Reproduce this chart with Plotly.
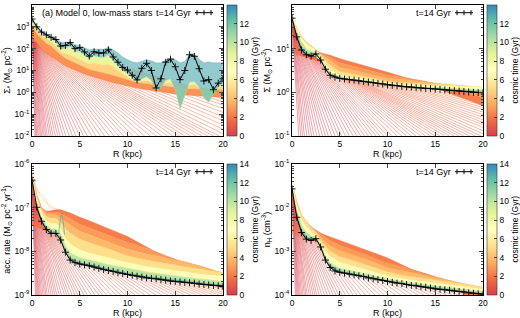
import plotly.graph_objects as go

# ================= DATA (stored as log10) =================
R_half = [0, 0.5, 1, 1.5, 2, 2.5, 3, 3.5, 4, 4.5, 5, 5.5, 6, 6.5, 7, 7.5, 8, 8.5, 9, 9.5, 10,
          10.5, 11, 11.5, 12, 12.5, 13, 13.5, 14, 14.5, 15, 15.5, 16, 16.5, 17, 17.5, 18, 18.5, 19, 19.5, 20]
R_coarse = [0, 0.5, 1, 1.5, 2, 2.5, 3, 3.5, 4, 5, 6, 8, 10, 12, 14, 16, 18, 20]
cbar_ticks = [0, 2, 4, 6, 8, 10, 12, 14]

# ---- (a) low-mass stars, Sigma_* (Msun/pc^2) ----
star_log_final = [3.36, 3.00, 2.76, 2.63, 2.52, 2.42, 2.12, 2.15, 2.28, 2.00, 2.05, 1.85, 1.66, 1.86, 1.80,
                  1.80, 1.95, 1.62, 1.38, 1.14, 1.02, 0.78, 0.57, 1.10, 1.33, 1.00, 0.20, 0.62, 1.38, 1.52,
                  1.17, 0.58, 1.00, 1.72, 1.65, 1.08, 0.52, 0.58, 0.12, 0.42, 0.62]
star_layer_times = [2.0, 3.5, 6.0, 11.0, 14.0]
star_layer_t2 = [2.55, 2.25, 2.00, 1.80, 1.65, 1.50, 1.35, 1.22, 1.12, 1.02, 0.93, 0.85, 0.77, 0.70, 0.63,
                 0.57, 0.50, 0.45, 0.40, 0.34, 0.29, 0.24, 0.20, 0.16, 0.12, 0.08, 0.05, 0.02, -0.01, -0.04,
                 -0.07, -0.09, -0.11, -0.13, -0.15, -0.17, -0.18, -0.19, -0.20, -0.21, -0.22]
star_layer_t35 = [3.05, 2.70, 2.45, 2.25, 2.10, 1.90, 1.72, 1.55, 1.45, 1.35, 1.25, 1.15, 1.05, 1.00, 0.95,
                  0.90, 0.85, 0.80, 0.72, 0.65, 0.60, 0.52, 0.45, 0.42, 0.40, 0.37, 0.33, 0.30, 0.28, 0.26,
                  0.23, 0.20, 0.18, 0.16, 0.15, 0.13, 0.12, 0.11, 0.10, 0.10, 0.10]
star_layer_t6 = [3.22, 2.86, 2.62, 2.48, 2.34, 2.15, 1.86, 1.76, 1.72, 1.62, 1.52, 1.42, 1.30, 1.36, 1.30,
                 1.25, 1.30, 1.18, 1.00, 0.84, 0.72, 0.58, 0.50, 0.52, 0.55, 0.48, 0.38, 0.36, 0.42, 0.44,
                 0.30, 0.24, 0.22, 0.35, 0.38, 0.25, 0.17, 0.15, 0.15, 0.22, 0.30]
star_layer_t11 = [3.30, 2.94, 2.70, 2.57, 2.45, 2.33, 1.98, 2.02, 2.12, 1.88, 1.88, 1.72, 1.55, 1.68, 1.62,
                  1.60, 1.72, 1.45, 1.20, 1.00, 0.88, 0.66, 0.48, 0.62, 0.72, 0.55, 0.10, 0.20, 0.55, 0.62,
                  0.15, -0.75, -0.10, 0.48, 0.50, 0.25, -0.25, -0.45, -0.05, 0.25, 0.40]
star_layer_t14 = [3.42, 3.06, 2.82, 2.68, 2.57, 2.47, 2.30, 2.28, 2.34, 2.18, 2.15, 2.05, 1.95, 1.98, 1.98,
                  1.98, 2.06, 1.95, 1.80, 1.62, 1.50, 1.40, 1.36, 1.42, 1.50, 1.45, 1.36, 1.35, 1.46, 1.60,
                  1.50, 1.36, 1.42, 1.76, 1.78, 1.52, 1.36, 1.40, 1.36, 1.35, 1.35]
star_fan_log_center = [3.3, 3.3, 3.28, 3.25, 3.22, 3.2, 3.17, 3.14, 3.1, 3.07, 3.04, 3.0, 2.97, 2.94, 2.91,
                       2.88, 2.85, 2.82, 2.8, 2.78, 2.76, 2.75, 2.73, 2.72, 2.7, 2.68, 2.66, 2.65, 2.63, 2.62,
                       2.6, 2.58, 2.56, 2.55, 2.53, 2.52, 2.5, 2.49, 2.48, 2.47, 2.46, 2.45, 2.44, 2.43, 2.42,
                       2.41, 2.4, 2.4, 2.4, 2.4, 2.4, 2.4, 2.4, 2.4, 2.4, 2.4, 2.4, 2.4, 2.4, 2.4, 2.4]
star_fan_exit_R = [0.3, 0.4, 0.5, 0.62, 0.75, 0.88, 1.0, 1.15, 1.3, 1.45, 1.6, 1.8, 2.0, 2.2, 2.45, 2.7,
                   2.95, 3.25, 3.55, 3.9, 4.25, 4.6, 5.0, 5.4, 5.8, 6.25, 6.7, 7.15, 7.6, 8.1, 8.6, 9.1,
                   9.6, 10.1, 10.6, 11.2, 11.8, 12.4, 13.0, 13.6, 14.2, 14.8, 15.4, 16.0, 16.6, 17.2, 17.8,
                   18.4, 19.0, 19.6, 20.5, 21.5, 22.6, 23.8, 25.0, 26.5, 28.0, 29.5, 31.0, 32.5, 34.0]

# ---- gas surface density Sigma (Msun/pc^2) ----
gas_log_final = [1.70, 1.27, 0.97, 0.86, 0.83, 0.88, 0.74, 0.53, 0.39, 0.35, 0.32, 0.305, 0.29, 0.28, 0.265,
                 0.25, 0.235, 0.22, 0.205, 0.19, 0.17, 0.16, 0.15, 0.135, 0.125, 0.12, 0.105, 0.10, 0.09,
                 0.085, 0.075, 0.07, 0.055, 0.045, 0.04, 0.03, 0.02, 0.01, 0.0, -0.005, -0.01]
gas_snap_times = [1.8, 2.6, 3.4, 4.4, 6.0, 8.5, 11.5]
gas_snap_t18 = [1.55, 1.30, 1.12, 1.02, 0.96, 0.93, 0.91, 0.88, 0.85, 0.77, 0.71, 0.59, 0.46, 0.33, 0.18, 0.02, -0.14, -0.30]
gas_snap_t26 = [1.62, 1.38, 1.19, 1.08, 1.01, 0.96, 0.90, 0.85, 0.80, 0.68, 0.62, 0.51, 0.39, 0.33, 0.25, 0.12, 0.00, -0.12]
gas_snap_t34 = [1.70, 1.44, 1.25, 1.13, 1.05, 0.98, 0.88, 0.80, 0.73, 0.58, 0.53, 0.43, 0.32, 0.28, 0.24, 0.18, 0.10, 0.02]
gas_snap_t44 = [1.76, 1.48, 1.28, 1.15, 1.07, 0.99, 0.85, 0.74, 0.64, 0.48, 0.44, 0.35, 0.26, 0.22, 0.20, 0.19, 0.15, 0.11]
gas_snap_t60 = [1.78, 1.46, 1.25, 1.12, 1.04, 0.98, 0.81, 0.66, 0.53, 0.41, 0.37, 0.30, 0.22, 0.18, 0.16, 0.15, 0.14, 0.12]
gas_snap_t85 = [1.76, 1.40, 1.15, 1.00, 0.94, 0.94, 0.78, 0.59, 0.45, 0.36, 0.32, 0.26, 0.19, 0.15, 0.12, 0.10, 0.08, 0.06]
gas_snap_t115 = [1.72, 1.32, 1.04, 0.91, 0.87, 0.90, 0.76, 0.56, 0.42, 0.34, 0.30, 0.25, 0.18, 0.135, 0.10, 0.07, 0.04, 0.02]
gas_fan_log_center = [1.65, 1.65, 1.65, 1.65, 1.65, 1.65, 1.62, 1.62, 1.6, 1.6, 1.6, 1.58, 1.58, 1.56, 1.55,
                      1.54, 1.52, 1.5, 1.5, 1.48, 1.46, 1.45, 1.43, 1.41, 1.4, 1.38, 1.36, 1.35, 1.33, 1.31,
                      1.3, 1.28, 1.26, 1.24, 1.22, 1.2, 1.18, 1.16, 1.15, 1.13, 1.11, 1.1, 1.08, 1.06, 1.05,
                      1.03, 1.01, 1.0, 1.0, 0.99, 0.98, 0.97, 0.96, 0.95, 0.94, 0.93, 0.92, 0.91, 0.9, 0.9, 0.9]
gas_fan_exit_R = [0.7, 0.9, 1.1, 1.3, 1.55, 1.8, 2.05, 2.3, 2.6, 2.9, 3.2, 3.5, 3.8, 4.15, 4.5, 4.85, 5.2,
                  5.6, 6.0, 6.4, 6.8, 7.2, 7.6, 8.0, 8.4, 8.8, 9.2, 9.6, 10.0, 10.5, 11.0, 11.5, 12.0, 12.5,
                  13.0, 13.5, 14.0, 14.5, 15.0, 15.5, 16.0, 16.5, 17.0, 17.5, 18.0, 18.6, 19.2, 19.8, 20.5,
                  21.3, 22.2, 23.0, 23.8, 24.7, 25.7, 26.8, 28.0, 29.2, 30.4, 31.7, 33.0]

# ---- accretion rate (Msun/pc^2/yr) ----
acc_log_final = [-6.37, -6.99, -7.31, -7.50, -7.59, -7.59, -7.74, -8.02, -8.20, -8.26, -8.29, -8.31, -8.33,
                 -8.36, -8.39, -8.42, -8.44, -8.46, -8.49, -8.51, -8.53, -8.55, -8.57, -8.59, -8.61, -8.62,
                 -8.63, -8.65, -8.66, -8.68, -8.69, -8.70, -8.71, -8.72, -8.73, -8.75, -8.76, -8.77, -8.78,
                 -8.79, -8.80]
acc_snap_times = [1.8, 2.6, 3.4, 4.4, 6.0, 8.5, 11.5]
acc_snap_t18 = [-6.30, -6.75, -7.00, -7.08, -7.07, -7.05, -7.05, -7.08, -7.12, -7.22, -7.30, -7.48, -7.66, -7.90, -8.15, -8.40, -8.62, -8.86]
acc_snap_t26 = [-6.25, -6.72, -7.00, -7.10, -7.10, -7.10, -7.14, -7.19, -7.25, -7.38, -7.46, -7.63, -7.80, -7.93, -8.10, -8.26, -8.42, -8.60]
acc_snap_t34 = [-6.22, -6.72, -7.02, -7.14, -7.16, -7.16, -7.24, -7.32, -7.40, -7.54, -7.62, -7.78, -7.95, -8.06, -8.15, -8.24, -8.36, -8.50]
acc_snap_t44 = [-6.20, -6.74, -7.06, -7.20, -7.24, -7.24, -7.34, -7.48, -7.58, -7.72, -7.80, -7.94, -8.10, -8.20, -8.28, -8.34, -8.41, -8.48]
acc_snap_t60 = [-6.24, -6.80, -7.13, -7.30, -7.36, -7.36, -7.48, -7.68, -7.82, -7.96, -8.03, -8.14, -8.25, -8.34, -8.41, -8.47, -8.52, -8.56]
acc_snap_t85 = [-6.30, -6.88, -7.21, -7.40, -7.48, -7.48, -7.60, -7.86, -8.04, -8.14, -8.19, -8.30, -8.38, -8.47, -8.53, -8.59, -8.64, -8.69]
acc_snap_t115 = [-6.34, -6.94, -7.27, -7.46, -7.55, -7.55, -7.69, -7.97, -8.15, -8.25, -8.29, -8.40, -8.49, -8.57, -8.62, -8.67, -8.72, -8.77]
acc_fan_log_center = [-6.35, -6.35, -6.37, -6.4, -6.4, -6.42, -6.45, -6.47, -6.5, -6.5, -6.52, -6.55, -6.57,
                      -6.6, -6.6, -6.62, -6.65, -6.67, -6.7, -6.7, -6.72, -6.75, -6.77, -6.8, -6.82, -6.85,
                      -6.87, -6.9, -6.92, -6.95, -6.97, -7.0, -7.02, -7.05, -7.07, -7.1, -7.12, -7.15, -7.17,
                      -7.2, -7.21, -7.23, -7.25, -7.26, -7.28, -7.3, -7.31, -7.33, -7.34, -7.35, -7.36, -7.37,
                      -7.38, -7.39, -7.4, -7.4, -7.4, -7.4]
acc_fan_exit_R = [0.35, 0.45, 0.55, 0.65, 0.75, 0.87, 1.0, 1.15, 1.3, 1.45, 1.6, 1.8, 2.0, 2.2, 2.4, 2.6, 2.85,
                  3.1, 3.4, 3.65, 3.9, 4.2, 4.5, 4.8, 5.1, 5.45, 5.8, 6.2, 6.6, 7.0, 7.4, 7.8, 8.3, 8.8, 9.3,
                  9.8, 10.3, 10.8, 11.3, 11.8, 12.4, 13.0, 13.6, 14.2, 14.8, 15.4, 16.0, 16.6, 17.2, 17.8,
                  18.4, 19.0, 19.6, 20.2, 20.8, 21.5, 22.3, 23.2]
acc_loop_R = [2.8, 2.95, 3.1, 3.25, 3.4]
acc_loop_log = [-7.60, -7.30, -7.17, -7.30, -7.62]
acc_spike_R = [0, 0.5, 1.0, 1.5, 2.0, 2.5, 3.0]
acc_spike_a_log = [-6.15, -6.55, -6.78, -6.90, -6.97, -7.02, -7.06]
acc_spike_b_log = [-6.10, -6.62, -6.88, -6.80, -6.92, -7.00, -7.05]
acc_spike_c_log = [-6.20, -6.60, -6.70, -6.86, -7.00, -7.04, -7.08]

# ---- hydrogen number density n_H (cm^-3) ----
nh_log_final = [-1.57, -2.22, -2.57, -2.72, -2.75, -2.71, -2.90, -3.20, -3.37, -3.45, -3.48, -3.50, -3.52,
                -3.54, -3.56, -3.58, -3.61, -3.63, -3.65, -3.67, -3.69, -3.71, -3.73, -3.74, -3.76, -3.78,
                -3.79, -3.81, -3.82, -3.84, -3.86, -3.87, -3.88, -3.89, -3.91, -3.92, -3.93, -3.95, -3.96,
                -3.97, -3.98]
nh_snap_times = [1.8, 2.6, 3.4, 4.4, 6.0, 8.5, 11.5]
nh_snap_t18 = [-1.52, -1.96, -2.22, -2.36, -2.45, -2.52, -2.58, -2.63, -2.67, -2.75, -2.83, -2.98, -3.15, -3.36, -3.57, -3.78, -3.98, -4.18]
nh_snap_t26 = [-1.47, -1.91, -2.19, -2.33, -2.44, -2.52, -2.62, -2.70, -2.76, -2.86, -2.94, -3.09, -3.26, -3.38, -3.52, -3.68, -3.84, -4.00]
nh_snap_t34 = [-1.44, -1.87, -2.17, -2.32, -2.44, -2.54, -2.67, -2.78, -2.87, -2.98, -3.05, -3.20, -3.37, -3.47, -3.55, -3.64, -3.74, -3.88]
nh_snap_t44 = [-1.42, -1.86, -2.17, -2.33, -2.46, -2.57, -2.73, -2.88, -2.99, -3.12, -3.18, -3.32, -3.47, -3.56, -3.62, -3.67, -3.74, -3.82]
nh_snap_t60 = [-1.44, -1.93, -2.26, -2.42, -2.54, -2.62, -2.79, -2.98, -3.12, -3.25, -3.31, -3.43, -3.56, -3.64, -3.70, -3.75, -3.80, -3.86]
nh_snap_t85 = [-1.50, -2.06, -2.40, -2.57, -2.65, -2.66, -2.84, -3.10, -3.26, -3.38, -3.43, -3.53, -3.63, -3.70, -3.76, -3.82, -3.87, -3.92]
nh_snap_t115 = [-1.54, -2.15, -2.50, -2.66, -2.71, -2.69, -2.87, -3.16, -3.32, -3.44, -3.49, -3.58, -3.67, -3.74, -3.80, -3.86, -3.91, -3.96]
nh_fan_log_center = [-1.5, -1.5, -1.5, -1.52, -1.55, -1.55, -1.57, -1.6, -1.6, -1.62, -1.65, -1.65, -1.67,
                     -1.7, -1.7, -1.72, -1.75, -1.75, -1.77, -1.8, -1.8, -1.82, -1.85, -1.85, -1.87, -1.9,
                     -1.93, -1.96, -1.99, -2.02, -2.05, -2.08, -2.11, -2.14, -2.17, -2.2, -2.22, -2.24, -2.26,
                     -2.28, -2.3, -2.32, -2.34, -2.36, -2.38, -2.4, -2.42, -2.44, -2.46, -2.48, -2.5, -2.52,
                     -2.54, -2.56, -2.58, -2.6]
nh_fan_exit_R = [0.35, 0.45, 0.55, 0.65, 0.75, 0.87, 1.0, 1.15, 1.3, 1.45, 1.6, 1.8, 2.0, 2.2, 2.4, 2.6, 2.85,
                 3.1, 3.4, 3.7, 4.0, 4.3, 4.6, 4.9, 5.25, 5.6, 6.0, 6.4, 6.8, 7.2, 7.7, 8.2, 8.7, 9.2, 9.7,
                 10.2, 10.8, 11.4, 12.0, 12.6, 13.2, 13.8, 14.4, 15.0, 15.6, 16.2, 16.8, 17.4, 18.0, 18.6,
                 19.2, 19.8, 20.3, 20.7, 21.1, 21.5]

# ================= STYLE =================
W, H = 520, 318
FONT = "Liberation Sans, Arial, Helvetica, sans-serif"
SPEC = ['#d53e4f', '#f46d43', '#fdae61', '#fee08b', '#ffffbf', '#e6f598', '#abdda4', '#66c2a5', '#3288bd']
SPEC_RGB = [tuple(int(h[i:i + 2], 16) for i in (1, 3, 5)) for h in SPEC]
CSCALE = [[i / 8, c] for i, c in enumerate(SPEC)]


def tcol(t, a=1.0):
    f = max(0.0, min(1.0, t / 14.0)) * 8
    i = min(int(f), 7)
    w = f - i
    c = [round(SPEC_RGB[i][k] * (1 - w) + SPEC_RGB[i + 1][k] * w) for k in range(3)]
    return f'rgba({c[0]},{c[1]},{c[2]},{a})'


def px(x):
    return x / W


def py(y):
    return 1 - y / H


def L(v):
    return [10 ** x for x in v]


fig = go.Figure()


def add_fan(xa, ya, centers, exits, floor_log, tmax):
    n = len(centers)
    for i, (c, e) in enumerate(zip(centers, exits)):
        t = tmax * i / (n - 1)
        fig.add_trace(go.Scatter(x=[0, e], y=[10 ** c, 10 ** floor_log], mode='lines',
                                 line=dict(color=tcol(t, 0.8), width=0.6),
                                 xaxis=xa, yaxis=ya, hoverinfo='skip', showlegend=False))


def add_layers(xa, ya, Rs, layers, times, alpha=1.0):
    prev = None
    for j, (t, vals) in enumerate(zip(times, layers)):
        if j == 0:
            kw = dict(fill='none')
        else:
            kw = dict(fill='tonexty', fillcolor=tcol((t + prev) / 2, alpha))
        fig.add_trace(go.Scatter(x=Rs, y=L(vals), mode='lines', line=dict(color=tcol(t, alpha), width=0.5),
                                 xaxis=xa, yaxis=ya, hoverinfo='skip', showlegend=False, **kw))
        prev = t
    return prev


def add_final(xa, ya, vals, fill_t=None):
    kw = dict(fill='none') if fill_t is None else dict(fill='tonexty', fillcolor=tcol(fill_t))
    fig.add_trace(go.Scatter(x=R_half, y=L(vals), mode='lines+markers',
                             line=dict(color='black', width=1.0),
                             marker=dict(symbol='cross-thin', size=5, line=dict(width=0.9, color='black')),
                             name='t=14 Gyr', xaxis=xa, yaxis=ya, hoverinfo='skip', showlegend=False, **kw))


# panel (a) stars
add_fan('x', 'y', star_fan_log_center, star_fan_exit_R, -2, 2.0)
add_layers('x', 'y', R_half, [star_layer_t2, star_layer_t35, star_layer_t6, star_layer_t11],
           star_layer_times[:4])
fig.add_trace(go.Scatter(x=R_half, y=L(star_layer_t14), mode='lines', line=dict(color=tcol(13.2, 0.5), width=0.5),
                         fill='tonexty', fillcolor=tcol(13.0, 0.62), xaxis='x', yaxis='y',
                         hoverinfo='skip', showlegend=False))
add_final('x', 'y', star_log_final)

# panel gas Sigma
add_fan('x2', 'y2', gas_fan_log_center, gas_fan_exit_R, -1, 2.0)
last = add_layers('x2', 'y2', R_coarse, [gas_snap_t18, gas_snap_t26, gas_snap_t34, gas_snap_t44,
                                          gas_snap_t60, gas_snap_t85, gas_snap_t115], gas_snap_times)
add_final('x2', 'y2', gas_log_final, (last + 14) / 2)

# panel accretion rate
add_fan('x3', 'y3', acc_fan_log_center, acc_fan_exit_R, -9, 2.0)
for spike, ts in ((acc_spike_a_log, 4.5), (acc_spike_b_log, 6.0), (acc_spike_c_log, 3.5)):
    fig.add_trace(go.Scatter(x=acc_spike_R, y=L(spike), mode='lines', line=dict(color=tcol(ts, 0.7), width=0.6),
                             line_shape='spline', xaxis='x3', yaxis='y3', hoverinfo='skip', showlegend=False))
last = add_layers('x3', 'y3', R_coarse, [acc_snap_t18, acc_snap_t26, acc_snap_t34, acc_snap_t44,
                                          acc_snap_t60, acc_snap_t85, acc_snap_t115], acc_snap_times)
add_final('x3', 'y3', acc_log_final, (last + 14) / 2)
fig.add_trace(go.Scatter(x=acc_loop_R, y=L(acc_loop_log), mode='lines', line=dict(color=tcol(12.8), width=0.8),
                         line_shape='spline', xaxis='x3', yaxis='y3', hoverinfo='skip', showlegend=False))

# panel n_H
add_fan('x4', 'y4', nh_fan_log_center, nh_fan_exit_R, -4, 2.0)
last = add_layers('x4', 'y4', R_coarse, [nh_snap_t18, nh_snap_t26, nh_snap_t34, nh_snap_t44,
                                          nh_snap_t60, nh_snap_t85, nh_snap_t115], nh_snap_times)
add_final('x4', 'y4', nh_log_final, (last + 14) / 2)

# ---------------- layout ----------------
plot_x = {1: (32, 223), 2: (292, 483), 3: (32, 223), 4: (292, 483)}
plot_y = {1: (5, 136), 2: (5, 136), 3: (164, 295), 4: (164, 295)}
yranges = {1: (-2, 4), 2: (-1, 2), 3: (-9, -6), 4: (-4, -1)}
ytitles = {1: 'Σ<sub>*</sub> (M<sub>⊙</sub> pc<sup>-2</sup>)',
           2: 'Σ (M<sub>⊙</sub> pc<sup>-2</sup>)',
           3: 'acc. rate (M<sub>⊙</sub> pc<sup>-2</sup> yr<sup>-1</sup>)',
           4: 'n<sub>H</sub> (cm<sup>-3</sup>)'}

layout = dict(template='none', width=W, height=H, margin=dict(l=0, r=0, t=0, b=0, autoexpand=False),
              paper_bgcolor='white', plot_bgcolor='white',
              font=dict(family=FONT, size=9, color='black'), showlegend=False)
annotations = []
shapes = []
for k in range(1, 5):
    sx = '' if k == 1 else str(k)
    x0, x1 = plot_x[k]
    y0, y1 = plot_y[k]
    lo, hi = yranges[k]
    layout['xaxis' + sx] = dict(domain=[px(x0), px(x1)], anchor='y' + sx, range=[0, 20], automargin=False,
                                tickvals=[0, 5, 10, 15, 20], ticks='inside', ticklen=4, tickwidth=0.8,
                                mirror='allticks', showline=True, linecolor='black', linewidth=0.9,
                                showgrid=False, zeroline=False, tickfont=dict(size=8.5),
                                title=dict(text='R (kpc)', font=dict(size=9), standoff=2))
    layout['yaxis' + sx] = dict(domain=[py(y1), py(y0)], anchor='x' + sx, type='log', range=[lo, hi],
                                automargin=False,
                                tickvals=[10 ** e for e in range(lo, hi + 1)],
                                ticktext=[f'10<sup>{e}</sup>' for e in range(lo, hi + 1)],
                                ticks='inside', ticklen=4, tickwidth=0.8, mirror='allticks', showline=True,
                                linecolor='black', linewidth=0.9, showgrid=False, zeroline=False,
                                minor=dict(ticks='inside', ticklen=2, tickwidth=0.6, dtick='D1', showgrid=False),
                                tickfont=dict(size=8.5),
                                title=dict(text=ytitles[k], font=dict(size=9), standoff=2))
    # colorbar
    fig.add_trace(go.Scatter(x=[None], y=[None], mode='markers', xaxis='x' + sx, yaxis='y' + sx,
                             hoverinfo='skip', showlegend=False,
                             marker=dict(color=[0], cmin=0, cmax=14, colorscale=CSCALE, showscale=True,
                                         colorbar=dict(x=px(x1 + 4), xanchor='left', xpad=0, ypad=0,
                                                       y=py((y0 + y1) / 2), yanchor='middle',
                                                       len=(y1 - y0) / H, lenmode='fraction',
                                                       thickness=10, thicknessmode='pixels',
                                                       tickvals=cbar_ticks, ticks='inside', ticklen=3,
                                                       tickcolor='#444', tickfont=dict(size=8.5),
                                                       outlinewidth=0.6, outlinecolor='#333'))))
    annotations.append(dict(text='cosmic time (Gyr)', textangle=-90, x=px(x1 + 31), y=py((y0 + y1) / 2),
                            xref='paper', yref='paper', showarrow=False, font=dict(size=8.5),
                            xanchor='center', yanchor='middle'))
    # legend entry
    ly = y0 + 7.7
    annotations.append(dict(text='t=14 Gyr', x=px(x1 - 30), y=py(ly), xref='paper', yref='paper',
                            showarrow=False, font=dict(size=9), xanchor='right', yanchor='middle'))
    shapes.append(dict(type='line', xref='paper', yref='paper', x0=px(x1 - 28), x1=px(x1 - 10),
                       y0=py(ly), y1=py(ly), line=dict(color='black', width=1)))
    for mx in (x1 - 26, x1 - 19, x1 - 12):
        shapes.append(dict(type='line', xref='paper', yref='paper', x0=px(mx), x1=px(mx),
                           y0=py(ly - 2.5), y1=py(ly + 2.5), line=dict(color='black', width=1)))

annotations.append(dict(text='(a) Model 0, low-mass stars', x=px(40), y=py(12.7), xref='paper', yref='paper',
                        showarrow=False, font=dict(size=9), xanchor='left', yanchor='middle'))
layout['annotations'] = annotations
layout['shapes'] = shapes
fig.update_layout(**layout)
fig.write_html("out.html", config={'displayModeBar': False},
               post_script="document.body.style.margin='0px';document.body.style.overflow='hidden';")
